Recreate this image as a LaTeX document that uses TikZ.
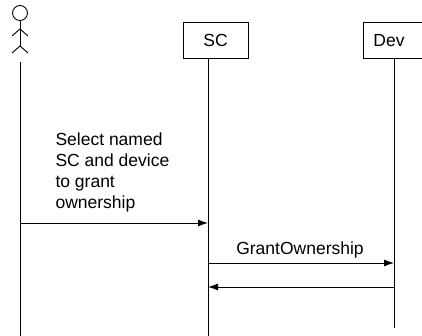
\documentclass[tikz,border=0pt]{standalone}
\usepackage{fontspec}
\setmainfont{Liberation Sans}
\usetikzlibrary{arrows.meta}

\tikzset{
	lifebox/.style={draw, line width=0.9pt, minimum height=36pt, inner sep=0pt},
	lifeline/.style={line width=0.9pt},
	msg/.style={line width=0.9pt, -{Latex[length=10pt,width=7pt]}},
}

\begin{document}
\begin{tikzpicture}[x=1pt,y=-1pt,font=\fontsize{17.5pt}{21pt}\selectfont]
	\useasboundingbox (0,0) rectangle (422,336);

	% actor
	\node[draw, circle, line width=0.9pt, minimum size=15pt, inner sep=0pt] (user) at (20,13) {};
	\draw[lifeline] (user.south) -- (20,47);
	\draw[lifeline] (12,36) -- (20,29) -- (28,36);
	\draw[lifeline] (12,53) -- (20,46) -- (28,53);

	% objects
	\node[lifebox, minimum width=65pt] (sc) at (215.5,40) {SC};
	\node[lifebox, minimum width=62pt] (dev) at (394,40.5) {\hspace*{-10pt}Dev};

	\coordinate (u0) at (20,62);
	\coordinate (u1) at (20,336);
	\coordinate (s0) at (208,58);
	\coordinate (s1) at (208,336);
	\coordinate (d0) at (394,59);
	\coordinate (d1) at (394,328);

	\draw[lifeline] (u0) -- (u1);
	\draw[lifeline] (s0) -- (s1);
	\draw[lifeline] (d0) -- (d1);

	% messages
	\coordinate (m1a) at (20,223);
	\coordinate (m1b) at (208,223);
	\coordinate (m2a) at (208,263);
	\coordinate (m2b) at (394,263);
	\coordinate (m3a) at (394,287);
	\coordinate (m3b) at (208,287);

	\draw[msg] (m1a) -- (m1b);
	\draw[msg] (m2a) -- (m2b);
	\draw[msg] (m3a) -- (m3b);

	\node[anchor=west, align=left] (select) at (52,172) {Select named\\SC and device\\to grant\\ownership};
	\node (grant) at (300,250) {GrantOwnership};
\end{tikzpicture}
\end{document}
